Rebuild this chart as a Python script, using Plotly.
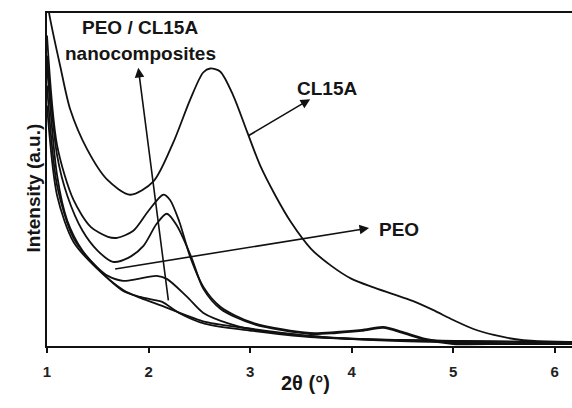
import plotly.graph_objects as go

# ---- data (2theta in degrees, intensity in arbitrary units) ----
cl15a_x = [1.0, 1.032, 1.131, 1.229, 1.397, 1.593, 1.82, 2.046, 2.243, 2.41, 2.538, 2.607,
           2.705, 2.834, 2.97, 3.1, 3.25, 3.4, 3.6, 3.8, 4.0, 4.2, 4.4, 4.6, 4.8, 5.0,
           5.2, 5.4, 5.6, 5.8, 6.17]
cl15a_y = [345, 326, 279, 236, 196, 166, 151, 164, 203, 246, 273, 277,
           274, 250, 214, 180, 150, 124, 97, 80, 67, 59, 52, 45, 36, 26,
           17, 11, 7, 5, 4]

nano1_x = [1.0, 1.1, 1.26, 1.43, 1.6, 1.69, 1.85, 2.0, 2.145, 2.21, 2.3, 2.41, 2.54, 2.71,
           3.03, 3.59, 3.85, 4.1, 4.31, 4.5, 4.73, 5.0, 5.5, 6.17]
nano1_y = [310, 200, 146, 119, 109, 108, 115, 135, 151, 146, 125, 89, 59, 39,
           23, 13, 14, 16, 19, 14, 7, 3, 2, 2]

nano2_x = [1.0, 1.1, 1.2, 1.35, 1.5, 1.65, 1.8, 1.95, 2.08, 2.18, 2.28, 2.42, 2.54, 2.71,
           3.03, 3.59, 3.85, 4.1, 4.31, 4.5, 4.73, 5.0, 5.5, 6.17]
nano2_y = [290, 190, 150, 115, 95, 84, 88, 100, 122, 132, 120, 89, 57, 37,
           22, 12, 13, 15, 18, 13, 6, 2, 2, 2]

nano3_x = [1.0, 1.1, 1.2, 1.35, 1.5, 1.6, 1.75, 1.9, 2.08, 2.18, 2.38, 2.54, 2.8, 3.03,
           3.59, 4.0, 5.0, 6.17]
nano3_y = [280, 170, 125, 95, 78, 70, 65, 67, 70, 67, 49, 33, 22, 16,
           10, 7, 5, 4]

nano4_x = [1.0, 1.1, 1.26, 1.475, 1.75, 1.92, 2.05, 2.135, 2.3, 2.56, 3.03, 3.59, 4.48, 6.17]
nano4_y = [260, 160, 108, 80, 55, 49, 46, 44, 33, 22, 15, 9, 6, 3]

peo_x = [1.0, 1.1, 1.26, 1.475, 1.75, 1.92, 2.135, 2.56, 3.03, 3.59, 4.48, 6.17]
peo_y = [240, 150, 104, 79, 56, 48, 40, 24, 17, 10, 5, 2]

x_ticks = [1, 2, 3, 4, 5, 6]

series = [
    ("CL15A", cl15a_x, cl15a_y),
    ("Nano 1", nano1_x, nano1_y),
    ("Nano 2", nano2_x, nano2_y),
    ("Nano 3", nano3_x, nano3_y),
    ("Nano 4", nano4_x, nano4_y),
    ("PEO", peo_x, peo_y),
]

fig = go.Figure()
for name, xs, ys in series:
    fig.add_trace(go.Scatter(
        x=xs, y=ys, mode="lines", name=name,
        line=dict(color="#111111", width=1.8, shape="spline", smoothing=0.8),
        showlegend=False, cliponaxis=True,
    ))

FONT = "Liberation Sans, Arial, sans-serif"
TXT = "#151515"

# arrows (head at x,y ; tail at ax,ay)
arrows = [
    (3.592, 246.4, 2.968, 209.0),   # CL15A
    (4.172, 117.7, 1.656, 76.7),    # PEO
    (1.899, 277.7, 2.197, 44.0),    # nanocomposites
]
for hx, hy, tx, ty in arrows:
    fig.add_annotation(x=hx, y=hy, ax=tx, ay=ty, xref="x", yref="y",
                       axref="x", ayref="y", text="", showarrow=True,
                       arrowhead=2, arrowsize=1.2, arrowwidth=1.6,
                       arrowcolor="#111111")

labels = [
    ("PEO / CL15A", 1.918, 318.4),
    ("nanocomposites", 1.918, 291.7),
    ("CL15A", 3.759, 257.2),
    ("PEO", 4.463, 116.7),
]
for txt, lx, ly in labels:
    fig.add_annotation(x=lx, y=ly, xref="x", yref="y", text="<b>%s</b>" % txt,
                       showarrow=False, font=dict(family=FONT, size=19, color=TXT))

# axis titles placed as annotations to match the original positions
fig.add_annotation(x=305, y=396, xref="paper", yref="paper", text="<b>2θ (°)</b>",
                   showarrow=False, font=dict(family=FONT, size=20, color=TXT))
fig.add_annotation(x=20, y=188, xref="paper", yref="paper", text="<b>Intensity (a.u.)</b>",
                   textangle=-90, showarrow=False, font=dict(family=FONT, size=19, color=TXT))

# convert pixel positions of the titles to paper coordinates
W, H = 572, 408
ML, MR, MT, MB = 47, 0, 13, 62
pw, ph = W - ML - MR, H - MT - MB
for ann in fig.layout.annotations[-2:]:
    ann.x = (ann.x - ML) / pw
    ann.y = (H - MB - ann.y) / ph

fig.update_layout(
    width=W, height=H,
    margin=dict(l=ML, r=MR, t=MT, b=MB),
    paper_bgcolor="white", plot_bgcolor="white",
    font=dict(family=FONT, color=TXT),
    xaxis=dict(
        range=[1, 6.17], tickvals=x_ticks, ticktext=["<b>%d</b>" % t for t in x_ticks],
        showgrid=False, zeroline=False, showline=True, linecolor="#111111",
        linewidth=2, mirror=True, ticks="outside", ticklen=5, tickwidth=1.5,
        tickcolor="#111111", ticklabelstandoff=6,
        tickfont=dict(family=FONT, size=15, color="#222222"),
    ),
    yaxis=dict(
        range=[0, 332.4], showticklabels=False, ticks="", showgrid=False,
        zeroline=False, showline=True, linecolor="#111111", linewidth=2,
    ),
)

fig.write_html("out.html")
